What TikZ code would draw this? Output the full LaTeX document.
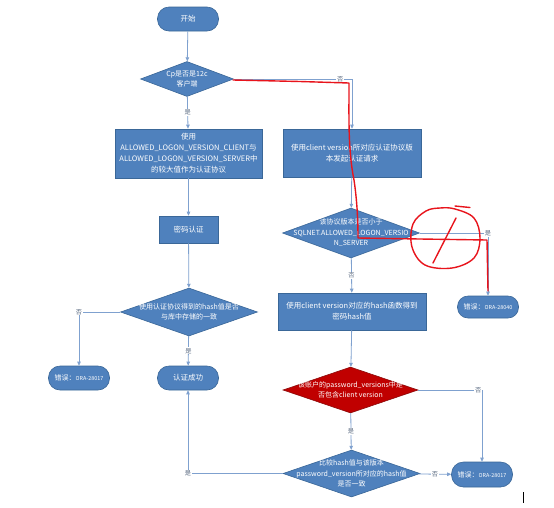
\documentclass[tikz,border=0pt]{standalone}
\usepackage{fontspec}
\setmainfont{Noto Sans CJK SC}
\usetikzlibrary{shapes.geometric,arrows.meta}
\definecolor{nodeblue}{HTML}{4F81BD}
\definecolor{nodeedge}{HTML}{3A6798}
\definecolor{linkcol}{HTML}{7FA1CF}
\definecolor{darkred}{HTML}{C00000}
\definecolor{redge}{HTML}{8C0A0A}
\definecolor{lblcol}{HTML}{5B6B82}
\definecolor{pencol}{HTML}{E8141C}
\newcommand{\errword}{{\fontsize{7}{8}\selectfont 错误：}}
\begin{document}
\begin{tikzpicture}[x=1pt,y=-1pt,
  base/.style={draw=nodeedge, line width=0.6pt, fill=nodeblue, text=white,
    font=\fontsize{7.5}{11}\selectfont, align=center, inner sep=0pt},
  term/.style={base, rectangle, rounded corners=11.5pt, minimum width=61pt, minimum height=24pt},
  errterm/.style={term, font=\fontsize{5.4}{7}\selectfont},
  proc/.style={base, rectangle},
  dia/.style={base, diamond},
  reddia/.style={dia, fill=darkred, draw=redge},
  txt/.style={text=white, font=\fontsize{7}{10.5}\selectfont, align=center, inner sep=0pt},
  link/.style={draw=linkcol, line width=0.8pt, -{Triangle[length=4pt,width=3.5pt]}},
  lab/.style={fill=white, text=lblcol, font=\fontsize{6.2}{6.2}\selectfont, inner sep=0.8pt},
  pen/.style={draw=pencol, line width=1.4pt, line cap=round, line join=round}
]
\useasboundingbox[fill=white] (0,0) rectangle (554,507);

\node[term] (start) at (188,19) {开始};
\node[dia, minimum width=93pt, minimum height=35pt] (d1) at (187,79) {};
\node[txt] at (d1) {Cp是否是12c\\客户端};
\node[proc, minimum width=147pt, minimum height=49pt] (b1) at (188.5,153.5)
  {使用\\ALLOWED\_LOGON\_VERSION\_CLIENT与\\ALLOWED\_LOGON\_VERSION\_SERVER中\\的较大值作为认证协议};
\node[proc, minimum width=138pt, minimum height=48pt] (b2) at (352,153)
  {使用client version所对应认证协议版\\本发起认证请求};
\node[proc, minimum width=59pt, minimum height=27pt] (pw) at (188.5,229.5) {密码认证};
\node[dia, minimum width=137pt, minimum height=48pt] (d3) at (189,312) {};
\node[txt] at (d3) {使用认证协议得到的hash值是否\\与库中存储的一致};
\node[errterm] (e1) at (79,378) {\errword ORA-28017};
\node[term] (ok) at (188,378) {认证成功};
\node[dia, minimum width=137pt, minimum height=50pt] (d2) at (351,233) {};
\node[txt] at (d2) {该协议版本是否小于\\SQLNET.ALLOWED\_LOGON\_VERSIO\\N\_SERVER};
\node[errterm, minimum height=22pt, rounded corners=10.5pt] (e2) at (488,307) {\errword ORA-28040};
\node[proc, minimum width=148pt, minimum height=37pt] (b3) at (352,311.5)
  {使用client version对应的hash函数得到\\密码hash值};
\node[reddia, minimum width=135pt, minimum height=46pt] (d4) at (350.5,390) {};
\node[txt] at (d4) {该账户的password\_versions中是\\否包含client version};
\node[dia, minimum width=137pt, minimum height=47pt] (d5) at (351.5,473.5) {};
\node[txt] at (d5) {比较hash值与该版本\\password\_version所对应的hash值\\是否一致};
\node[errterm, minimum height=25pt, rounded corners=12pt] (e3) at (482,474.5) {\errword ORA-28017};

\draw[link] (start) -- (d1);
\draw[link] (d1) -- node[lab]{是} (b1);
\draw[link] (d1.east) -| node[lab, pos=0.45]{否} (b2.north);
\draw[link] (b1) -- (pw);
\draw[link] (pw) -- (d3);
\draw[link] (d3.west) -| node[lab, pos=0.5]{否} (e1.north);
\draw[link] (d3) -- node[lab]{是} (ok);
\draw[link] (b2) -- (d2);
\draw[link] (d2.east) -| node[lab, pos=0.5]{是} (e2.north);
\draw[link] (d2) -- node[lab]{否} (b3);
\draw[link] (b3) -- (d4);
\draw[link] (d4.east) -| node[lab, pos=0.47]{否} (e3.north);
\draw[link] (d4) -- node[lab]{是} (d5);
\draw[link] (d5) -- node[lab]{否} (e3);
\draw[link] (d5.west) -| node[lab, pos=0.5]{是} (ok.south);

% hand-drawn red annotations
\draw[pen] (233,80) -- (300,81.5) -- (349,83)
  .. controls (349,120) and (348,150) .. (354,180)
  .. controls (357,200) and (358,220) .. (358,238)
  -- (420,239) -- (487,240) -- (488,291);
\draw[pen] plot[smooth cycle, tension=0.6] coordinates
  {(455,209) (474,218) (480,238) (474,258) (452,268) (425,265) (412,247) (413,224) (426,211) (440,208)};
\draw[pen] (455,206) -- (470,207.5);
\draw[pen] (433,263) -- (456,218);

\draw[black, line width=0.8pt] (523,492) -- (523,503);
\end{tikzpicture}
\end{document}
